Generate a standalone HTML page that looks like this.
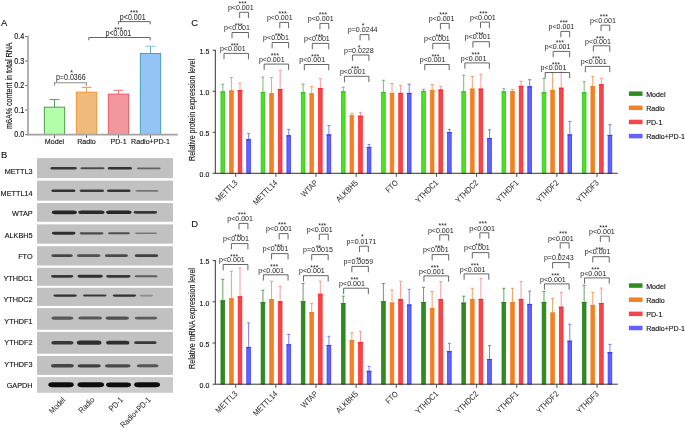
<!DOCTYPE html>
<html><head><meta charset="utf-8"><style>
html,body{margin:0;padding:0;background:#fff;}
body{width:685px;height:428px;overflow:hidden;}
svg{display:block;font-family:"Liberation Sans", sans-serif;will-change:transform;}
text{stroke:#111;stroke-width:0.12px;}
text.pv{stroke:none;fill:#222;}
</style></head><body>
<svg width="685" height="428" viewBox="0 0 685 428">
<rect width="685" height="428" fill="#fff"/>
<text transform="translate(1.1,25.7) scale(1,1.02)" font-size="9.4" text-anchor="start" fill="#111" >A</text>
<text transform="translate(11.6,85.7) rotate(-90) scale(1,1.16)" font-size="7.15" text-anchor="middle" fill="#111">m6A% content in total RNA</text>
<line x1="25.3" y1="134.6" x2="28" y2="134.6" stroke="#444" stroke-width="0.9"/>
<text transform="translate(24.3,137.35) scale(1,1.16)" font-size="7.2" text-anchor="end" fill="#111" >0.0</text>
<line x1="25.3" y1="110.07" x2="28" y2="110.07" stroke="#444" stroke-width="0.9"/>
<text transform="translate(24.3,112.82) scale(1,1.16)" font-size="7.2" text-anchor="end" fill="#111" >0.1</text>
<line x1="25.3" y1="85.54" x2="28" y2="85.54" stroke="#444" stroke-width="0.9"/>
<text transform="translate(24.3,88.29) scale(1,1.16)" font-size="7.2" text-anchor="end" fill="#111" >0.2</text>
<line x1="25.3" y1="61.01" x2="28" y2="61.01" stroke="#444" stroke-width="0.9"/>
<text transform="translate(24.3,63.76) scale(1,1.16)" font-size="7.2" text-anchor="end" fill="#111" >0.3</text>
<line x1="25.3" y1="36.48" x2="28" y2="36.48" stroke="#444" stroke-width="0.9"/>
<text transform="translate(24.3,39.23) scale(1,1.16)" font-size="7.2" text-anchor="end" fill="#111" >0.4</text>
<rect x="44.3" y="107.15" width="20.4" height="27.45" fill="#b2ffaa" stroke="#3f8f3f" stroke-width="0.9" />
<line x1="54.5" y1="107.15" x2="54.5" y2="99.6" stroke="#4a8f4a" stroke-width="0.9"/>
<line x1="49.5" y1="99.6" x2="59.5" y2="99.6" stroke="#5a9a5a" stroke-width="1.0"/>
<rect x="76.3" y="92.15" width="20.4" height="42.45" fill="#efbb7b" stroke="#f0902a" stroke-width="0.9" />
<line x1="86.5" y1="92.15" x2="86.5" y2="87.3" stroke="#f0902a" stroke-width="0.9"/>
<line x1="81.5" y1="87.3" x2="91.5" y2="87.3" stroke="#f09040" stroke-width="1.0"/>
<rect x="108.3" y="94.1" width="20.4" height="40.5" fill="#f3979f" stroke="#e8505c" stroke-width="0.9" />
<line x1="118.5" y1="94.1" x2="118.5" y2="90.3" stroke="#e86070" stroke-width="0.9"/>
<line x1="113.5" y1="90.3" x2="123.5" y2="90.3" stroke="#ea7080" stroke-width="1.0"/>
<rect x="140.3" y="53.5" width="20.4" height="81.1" fill="#94c3f5" stroke="#3c9ab2" stroke-width="0.9" />
<line x1="150.5" y1="53.5" x2="150.5" y2="46.2" stroke="#4aa0b0" stroke-width="0.9"/>
<line x1="145.5" y1="46.2" x2="155.5" y2="46.2" stroke="#80c4cc" stroke-width="1.0"/>
<line x1="28" y1="35.8" x2="28" y2="135.5" stroke="#a9a9a9" stroke-width="1.8"/>
<line x1="27.1" y1="134.6" x2="177.8" y2="134.6" stroke="#a4a4a4" stroke-width="1.6"/>
<line x1="54.5" y1="135.4" x2="54.5" y2="137.9" stroke="#444" stroke-width="0.9"/>
<line x1="86.5" y1="135.4" x2="86.5" y2="137.9" stroke="#444" stroke-width="0.9"/>
<line x1="118.5" y1="135.4" x2="118.5" y2="137.9" stroke="#444" stroke-width="0.9"/>
<line x1="150.5" y1="135.4" x2="150.5" y2="137.9" stroke="#444" stroke-width="0.9"/>
<text transform="translate(54.5,144.4) scale(1,1.04)" font-size="7.1" text-anchor="middle" fill="#111" >Model</text>
<text transform="translate(86.5,144.4) scale(1,1.04)" font-size="7.1" text-anchor="middle" fill="#111" >Radio</text>
<text transform="translate(118.5,144.4) scale(1,1.04)" font-size="7.1" text-anchor="middle" fill="#111" >PD-1</text>
<text transform="translate(150.5,144.4) scale(1,1.04)" font-size="7.1" text-anchor="middle" fill="#111" >Radio+PD-1</text>
<path d="M54.5,85.8 V82.8 H86.4 V85.8" fill="none" stroke="#8a8a8a" stroke-width="1.1"/>
<text transform="translate(70.8,80.1) scale(1,1.16)" font-size="7.1" text-anchor="middle" fill="#333" class="pv">p=0.0366</text>
<text transform="translate(71.5,74.9) scale(1,1.16)" font-size="7.0" text-anchor="middle" fill="#333" class="pv">*</text>
<path d="M88.8,40.3 V37.5 H150.2 V40.3" fill="none" stroke="#666" stroke-width="1.0"/>
<text transform="translate(118.4,35.6) scale(1,1.16)" font-size="7.1" text-anchor="middle" fill="#333" class="pv">p&lt;0.001</text>
<text transform="translate(118.4,32) scale(1,1.16)" font-size="7.0" text-anchor="middle" fill="#333" class="pv">***</text>
<path d="M118.4,24.4 V21.6 H150.2 V24.4" fill="none" stroke="#666" stroke-width="1.0"/>
<text transform="translate(132.7,19.8) scale(1,1.16)" font-size="7.1" text-anchor="middle" fill="#333" class="pv">p&lt;0.001</text>
<text transform="translate(134.1,15.3) scale(1,1.16)" font-size="7.0" text-anchor="middle" fill="#333" class="pv">***</text>
<text transform="translate(1.1,158) scale(1,1.02)" font-size="9.4" text-anchor="start" fill="#111" >B</text>
<defs><filter id="bl" x="-20%" y="-200%" width="140%" height="500%"><feGaussianBlur stdDeviation="0.6"/></filter></defs>
<rect x="37" y="158.1" width="136" height="20.1" fill="#c1c1c1" />
<text transform="translate(32.6,173.6) scale(1,1.08)" font-size="7.3" text-anchor="end" fill="#111" >METTL3</text>
<rect x="50.3" y="167.05" width="26.6" height="2.5" rx="2.2" ry="1.25" fill="#1c1c1c" fill-opacity="0.85" filter="url(#bl)"/>
<rect x="80.4" y="167.25" width="24.1" height="2.1" rx="1.88" ry="1.05" fill="#1c1c1c" fill-opacity="0.72" filter="url(#bl)"/>
<rect x="107.6" y="167" width="24.5" height="2.6" rx="2.28" ry="1.3" fill="#1c1c1c" fill-opacity="0.88" filter="url(#bl)"/>
<rect x="136.8" y="167.4" width="23.9" height="1.8" rx="1.64" ry="0.9" fill="#1c1c1c" fill-opacity="0.58" filter="url(#bl)"/>
<rect x="37" y="180.6" width="136" height="20.1" fill="#c1c1c1" />
<text transform="translate(32.6,195.8) scale(1,1.08)" font-size="7.3" text-anchor="end" fill="#111" >METTL14</text>
<rect x="51.3" y="189.55" width="24.2" height="2.5" rx="2.2" ry="1.25" fill="#1c1c1c" fill-opacity="0.88" filter="url(#bl)"/>
<rect x="79.6" y="189.6" width="24.5" height="2.4" rx="2.12" ry="1.2" fill="#1c1c1c" fill-opacity="0.80" filter="url(#bl)"/>
<rect x="107" y="189.6" width="23.6" height="2.4" rx="2.12" ry="1.2" fill="#1c1c1c" fill-opacity="0.85" filter="url(#bl)"/>
<rect x="135.5" y="189.9" width="23.1" height="1.8" rx="1.64" ry="0.9" fill="#1c1c1c" fill-opacity="0.45" filter="url(#bl)"/>
<rect x="37" y="203.1" width="136" height="18.7" fill="#c1c1c1" />
<text transform="translate(32.6,216.2) scale(1,1.08)" font-size="7.3" text-anchor="end" fill="#111" >WTAP</text>
<rect x="51.8" y="210.45" width="25.1" height="3.7" rx="3.16" ry="1.85" fill="#1c1c1c" fill-opacity="0.95" filter="url(#bl)"/>
<rect x="78.3" y="210.55" width="26.2" height="3.5" rx="3" ry="1.75" fill="#1c1c1c" fill-opacity="0.92" filter="url(#bl)"/>
<rect x="106.1" y="210.55" width="25.4" height="3.5" rx="3" ry="1.75" fill="#1c1c1c" fill-opacity="0.95" filter="url(#bl)"/>
<rect x="133.5" y="210.95" width="23.7" height="2.7" rx="2.36" ry="1.35" fill="#1c1c1c" fill-opacity="0.85" filter="url(#bl)"/>
<rect x="37" y="224.4" width="136" height="19.2" fill="#c1c1c1" />
<text transform="translate(32.6,238.3) scale(1,1.08)" font-size="7.3" text-anchor="end" fill="#111" >ALKBH5</text>
<rect x="51.8" y="231.85" width="23.7" height="2.9" rx="2.52" ry="1.45" fill="#1c1c1c" fill-opacity="0.90" filter="url(#bl)"/>
<rect x="79.6" y="232.2" width="23.9" height="2.2" rx="1.96" ry="1.1" fill="#1c1c1c" fill-opacity="0.72" filter="url(#bl)"/>
<rect x="108" y="232.3" width="22" height="2" rx="1.8" ry="1" fill="#1c1c1c" fill-opacity="0.68" filter="url(#bl)"/>
<rect x="135" y="232.5" width="22" height="1.6" rx="1.48" ry="0.8" fill="#1c1c1c" fill-opacity="0.45" filter="url(#bl)"/>
<rect x="37" y="246.2" width="136" height="19.3" fill="#c1c1c1" />
<text transform="translate(32.6,259.1) scale(1,1.08)" font-size="7.3" text-anchor="end" fill="#111" >FTO</text>
<rect x="51.3" y="254.3" width="21.5" height="2.8" rx="2.44" ry="1.4" fill="#1c1c1c" fill-opacity="0.75" filter="url(#bl)"/>
<rect x="76.9" y="254.35" width="23.5" height="2.7" rx="2.36" ry="1.35" fill="#1c1c1c" fill-opacity="0.68" filter="url(#bl)"/>
<rect x="104.9" y="254.3" width="23.1" height="2.8" rx="2.44" ry="1.4" fill="#1c1c1c" fill-opacity="0.72" filter="url(#bl)"/>
<rect x="134.7" y="254.35" width="23.5" height="2.7" rx="2.36" ry="1.35" fill="#1c1c1c" fill-opacity="0.78" filter="url(#bl)"/>
<rect x="37" y="267.8" width="136" height="18" fill="#c1c1c1" />
<text transform="translate(32.6,281.2) scale(1,1.08)" font-size="7.3" text-anchor="end" fill="#111" >YTHDC1</text>
<rect x="51" y="274.95" width="22.4" height="2.7" rx="2.36" ry="1.35" fill="#1c1c1c" fill-opacity="0.85" filter="url(#bl)"/>
<rect x="77.5" y="274.85" width="25.4" height="2.9" rx="2.52" ry="1.45" fill="#1c1c1c" fill-opacity="0.90" filter="url(#bl)"/>
<rect x="106.1" y="274.95" width="24.5" height="2.7" rx="2.36" ry="1.35" fill="#1c1c1c" fill-opacity="0.85" filter="url(#bl)"/>
<rect x="134.7" y="275.35" width="22.9" height="1.9" rx="1.72" ry="0.95" fill="#1c1c1c" fill-opacity="0.60" filter="url(#bl)"/>
<rect x="37" y="287.8" width="136" height="18.1" fill="#c1c1c1" />
<text transform="translate(32.6,302.1) scale(1,1.08)" font-size="7.3" text-anchor="end" fill="#111" >YTHDC2</text>
<rect x="53.4" y="294.5" width="23.5" height="2.2" rx="1.96" ry="1.1" fill="#1c1c1c" fill-opacity="0.88" filter="url(#bl)"/>
<rect x="83" y="294.6" width="23.5" height="2" rx="1.8" ry="1" fill="#1c1c1c" fill-opacity="0.82" filter="url(#bl)"/>
<rect x="112.7" y="294.5" width="23.5" height="2.2" rx="1.96" ry="1.1" fill="#1c1c1c" fill-opacity="0.88" filter="url(#bl)"/>
<rect x="139.6" y="294.8" width="13.5" height="1.6" rx="1.48" ry="0.8" fill="#1c1c1c" fill-opacity="0.30" filter="url(#bl)"/>
<rect x="37" y="308.1" width="136" height="21.7" fill="#c1c1c1" />
<text transform="translate(32.6,323.8) scale(1,1.08)" font-size="7.3" text-anchor="end" fill="#111" >YTHDF1</text>
<rect x="51.3" y="316.45" width="22.1" height="3.3" rx="2.84" ry="1.65" fill="#1c1c1c" fill-opacity="0.64" filter="url(#bl)"/>
<rect x="78.3" y="316.6" width="23.7" height="3" rx="2.6" ry="1.5" fill="#1c1c1c" fill-opacity="0.64" filter="url(#bl)"/>
<rect x="105.5" y="316.5" width="23.5" height="3.2" rx="2.76" ry="1.6" fill="#1c1c1c" fill-opacity="0.68" filter="url(#bl)"/>
<rect x="134.7" y="316.65" width="22.5" height="2.9" rx="2.52" ry="1.45" fill="#1c1c1c" fill-opacity="0.62" filter="url(#bl)"/>
<rect x="37" y="331.9" width="136" height="21.8" fill="#c1c1c1" />
<text transform="translate(32.6,345.2) scale(1,1.08)" font-size="7.3" text-anchor="end" fill="#111" >YTHDF2</text>
<rect x="51.3" y="340.95" width="22.1" height="3.5" rx="3" ry="1.75" fill="#1c1c1c" fill-opacity="0.85" filter="url(#bl)"/>
<rect x="76.9" y="340.55" width="24.5" height="4.3" rx="3.64" ry="2.15" fill="#1c1c1c" fill-opacity="0.90" filter="url(#bl)"/>
<rect x="106.1" y="340.8" width="23.3" height="3.8" rx="3.24" ry="1.9" fill="#1c1c1c" fill-opacity="0.90" filter="url(#bl)"/>
<rect x="134.1" y="341.35" width="22.5" height="2.7" rx="2.36" ry="1.35" fill="#1c1c1c" fill-opacity="0.85" filter="url(#bl)"/>
<rect x="37" y="355.9" width="136" height="19" fill="#c1c1c1" />
<text transform="translate(32.6,366.7) scale(1,1.08)" font-size="7.3" text-anchor="end" fill="#111" >YTHDF3</text>
<rect x="51" y="364.05" width="22.8" height="3.5" rx="3" ry="1.75" fill="#1c1c1c" fill-opacity="0.75" filter="url(#bl)"/>
<rect x="77.5" y="364.15" width="23.3" height="3.3" rx="2.84" ry="1.65" fill="#1c1c1c" fill-opacity="0.78" filter="url(#bl)"/>
<rect x="104.9" y="364.15" width="25.7" height="3.3" rx="2.84" ry="1.65" fill="#1c1c1c" fill-opacity="0.72" filter="url(#bl)"/>
<rect x="136.8" y="364.3" width="21.8" height="3" rx="2.6" ry="1.5" fill="#1c1c1c" fill-opacity="0.65" filter="url(#bl)"/>
<rect x="37" y="377.1" width="136" height="15.7" fill="#cacaca" />
<text transform="translate(32.6,388.3) scale(1,1.08)" font-size="7.3" text-anchor="end" fill="#111" >GAPDH</text>
<rect x="48.3" y="382.35" width="25.5" height="4.9" rx="4.12" ry="2.45" fill="#0a0a0a" fill-opacity="1.00" filter="url(#bl)"/>
<rect x="77.5" y="382.35" width="26.6" height="4.9" rx="4.12" ry="2.45" fill="#0a0a0a" fill-opacity="1.00" filter="url(#bl)"/>
<rect x="106.1" y="382.45" width="24.9" height="4.7" rx="3.96" ry="2.35" fill="#0a0a0a" fill-opacity="1.00" filter="url(#bl)"/>
<rect x="134.1" y="382.35" width="26" height="4.9" rx="4.12" ry="2.45" fill="#0a0a0a" fill-opacity="1.00" filter="url(#bl)"/>
<text transform="translate(66,400.5) rotate(-45) scale(1,1.16)" font-size="7.2" text-anchor="end" fill="#1a1a1a" class="pv">Model</text>
<text transform="translate(95,400.5) rotate(-45) scale(1,1.16)" font-size="7.2" text-anchor="end" fill="#1a1a1a" class="pv">Radio</text>
<text transform="translate(123.6,400.5) rotate(-45) scale(1,1.16)" font-size="7.2" text-anchor="end" fill="#1a1a1a" class="pv">PD-1</text>
<text transform="translate(151.3,400.5) rotate(-45) scale(1,1.16)" font-size="7.2" text-anchor="end" fill="#1a1a1a" class="pv">Radio+PD-1</text>
<text transform="translate(191.2,25.9) scale(1,1.02)" font-size="9.4" text-anchor="start" fill="#111" >C</text>
<text transform="translate(195.2,110) rotate(-90) scale(1,1.16)" font-size="7.1" text-anchor="middle" fill="#111">Relative protein expression level</text>
<line x1="222.8" y1="91.5" x2="222.8" y2="84.2" stroke="#6aa86a" stroke-width="0.85"/>
<line x1="221.3" y1="84.2" x2="224.3" y2="84.2" stroke="#6aa86a" stroke-width="0.9"/>
<rect x="220.95" y="91.85" width="3.7" height="81.45" fill="#48e41e" stroke="#36b528" stroke-width="0.7" />
<line x1="220.3" y1="91.9" x2="225.3" y2="91.9" stroke="#36b528" stroke-width="0.9"/>
<line x1="231.4" y1="90.6" x2="231.4" y2="77.5" stroke="#f09050" stroke-width="0.85"/>
<line x1="229.9" y1="77.5" x2="232.9" y2="77.5" stroke="#f09050" stroke-width="0.9"/>
<rect x="229.55" y="90.95" width="3.7" height="82.35" fill="#f08224" stroke="#f27c1e" stroke-width="0.7" />
<line x1="228.9" y1="91" x2="233.9" y2="91" stroke="#f27c1e" stroke-width="0.9"/>
<line x1="240" y1="90.2" x2="240" y2="83.1" stroke="#f88890" stroke-width="0.85"/>
<line x1="238.5" y1="83.1" x2="241.5" y2="83.1" stroke="#f88890" stroke-width="0.9"/>
<rect x="238.15" y="90.55" width="3.7" height="82.75" fill="#f5464e" stroke="#ff2020" stroke-width="0.7" />
<line x1="237.5" y1="90.6" x2="242.5" y2="90.6" stroke="#ff2020" stroke-width="0.9"/>
<line x1="248.6" y1="139.2" x2="248.6" y2="133.6" stroke="#6a6aff" stroke-width="0.85"/>
<line x1="247.1" y1="133.6" x2="250.1" y2="133.6" stroke="#6a6aff" stroke-width="0.9"/>
<rect x="246.75" y="139.55" width="3.7" height="33.75" fill="#6262ff" stroke="#3434ff" stroke-width="0.7" />
<line x1="246.1" y1="139.6" x2="251.1" y2="139.6" stroke="#3434ff" stroke-width="0.9"/>
<line x1="262.95" y1="92.1" x2="262.95" y2="77.1" stroke="#6aa86a" stroke-width="0.85"/>
<line x1="261.45" y1="77.1" x2="264.45" y2="77.1" stroke="#6aa86a" stroke-width="0.9"/>
<rect x="261.1" y="92.45" width="3.7" height="80.85" fill="#48e41e" stroke="#36b528" stroke-width="0.7" />
<line x1="260.45" y1="92.5" x2="265.45" y2="92.5" stroke="#36b528" stroke-width="0.9"/>
<line x1="271.55" y1="93.4" x2="271.55" y2="77.5" stroke="#f09050" stroke-width="0.85"/>
<line x1="270.05" y1="77.5" x2="273.05" y2="77.5" stroke="#f09050" stroke-width="0.9"/>
<rect x="269.7" y="93.75" width="3.7" height="79.55" fill="#f08224" stroke="#f27c1e" stroke-width="0.7" />
<line x1="269.05" y1="93.8" x2="274.05" y2="93.8" stroke="#f27c1e" stroke-width="0.9"/>
<line x1="280.15" y1="89.1" x2="280.15" y2="70.4" stroke="#f88890" stroke-width="0.85"/>
<line x1="278.65" y1="70.4" x2="281.65" y2="70.4" stroke="#f88890" stroke-width="0.9"/>
<rect x="278.3" y="89.45" width="3.7" height="83.85" fill="#f5464e" stroke="#ff2020" stroke-width="0.7" />
<line x1="277.65" y1="89.5" x2="282.65" y2="89.5" stroke="#ff2020" stroke-width="0.9"/>
<line x1="288.75" y1="135.4" x2="288.75" y2="129.4" stroke="#6a6aff" stroke-width="0.85"/>
<line x1="287.25" y1="129.4" x2="290.25" y2="129.4" stroke="#6a6aff" stroke-width="0.9"/>
<rect x="286.9" y="135.75" width="3.7" height="37.55" fill="#6262ff" stroke="#3434ff" stroke-width="0.7" />
<line x1="286.25" y1="135.8" x2="291.25" y2="135.8" stroke="#3434ff" stroke-width="0.9"/>
<line x1="303.1" y1="92.4" x2="303.1" y2="84.2" stroke="#6aa86a" stroke-width="0.85"/>
<line x1="301.6" y1="84.2" x2="304.6" y2="84.2" stroke="#6aa86a" stroke-width="0.9"/>
<rect x="301.25" y="92.75" width="3.7" height="80.55" fill="#48e41e" stroke="#36b528" stroke-width="0.7" />
<line x1="300.6" y1="92.8" x2="305.6" y2="92.8" stroke="#36b528" stroke-width="0.9"/>
<line x1="311.7" y1="93.4" x2="311.7" y2="86.4" stroke="#f09050" stroke-width="0.85"/>
<line x1="310.2" y1="86.4" x2="313.2" y2="86.4" stroke="#f09050" stroke-width="0.9"/>
<rect x="309.85" y="93.75" width="3.7" height="79.55" fill="#f08224" stroke="#f27c1e" stroke-width="0.7" />
<line x1="309.2" y1="93.8" x2="314.2" y2="93.8" stroke="#f27c1e" stroke-width="0.9"/>
<line x1="320.3" y1="88.3" x2="320.3" y2="78.6" stroke="#f88890" stroke-width="0.85"/>
<line x1="318.8" y1="78.6" x2="321.8" y2="78.6" stroke="#f88890" stroke-width="0.9"/>
<rect x="318.45" y="88.65" width="3.7" height="84.65" fill="#f5464e" stroke="#ff2020" stroke-width="0.7" />
<line x1="317.8" y1="88.7" x2="322.8" y2="88.7" stroke="#ff2020" stroke-width="0.9"/>
<line x1="328.9" y1="134.5" x2="328.9" y2="125.5" stroke="#6a6aff" stroke-width="0.85"/>
<line x1="327.4" y1="125.5" x2="330.4" y2="125.5" stroke="#6a6aff" stroke-width="0.9"/>
<rect x="327.05" y="134.85" width="3.7" height="38.45" fill="#6262ff" stroke="#3434ff" stroke-width="0.7" />
<line x1="326.4" y1="134.9" x2="331.4" y2="134.9" stroke="#3434ff" stroke-width="0.9"/>
<line x1="343.25" y1="91.5" x2="343.25" y2="87.2" stroke="#6aa86a" stroke-width="0.85"/>
<line x1="341.75" y1="87.2" x2="344.75" y2="87.2" stroke="#6aa86a" stroke-width="0.9"/>
<rect x="341.4" y="91.85" width="3.7" height="81.45" fill="#48e41e" stroke="#36b528" stroke-width="0.7" />
<line x1="340.75" y1="91.9" x2="345.75" y2="91.9" stroke="#36b528" stroke-width="0.9"/>
<line x1="351.85" y1="115.4" x2="351.85" y2="113.4" stroke="#f09050" stroke-width="0.85"/>
<line x1="350.35" y1="113.4" x2="353.35" y2="113.4" stroke="#f09050" stroke-width="0.9"/>
<rect x="350" y="115.75" width="3.7" height="57.55" fill="#f08224" stroke="#f27c1e" stroke-width="0.7" />
<line x1="349.35" y1="115.8" x2="354.35" y2="115.8" stroke="#f27c1e" stroke-width="0.9"/>
<line x1="360.45" y1="115.8" x2="360.45" y2="112.4" stroke="#f88890" stroke-width="0.85"/>
<line x1="358.95" y1="112.4" x2="361.95" y2="112.4" stroke="#f88890" stroke-width="0.9"/>
<rect x="358.6" y="116.15" width="3.7" height="57.15" fill="#f5464e" stroke="#ff2020" stroke-width="0.7" />
<line x1="357.95" y1="116.2" x2="362.95" y2="116.2" stroke="#ff2020" stroke-width="0.9"/>
<line x1="369.05" y1="147" x2="369.05" y2="144.4" stroke="#6a6aff" stroke-width="0.85"/>
<line x1="367.55" y1="144.4" x2="370.55" y2="144.4" stroke="#6a6aff" stroke-width="0.9"/>
<rect x="367.2" y="147.35" width="3.7" height="25.95" fill="#6262ff" stroke="#3434ff" stroke-width="0.7" />
<line x1="366.55" y1="147.4" x2="371.55" y2="147.4" stroke="#3434ff" stroke-width="0.9"/>
<line x1="383.4" y1="92.1" x2="383.4" y2="80.3" stroke="#6aa86a" stroke-width="0.85"/>
<line x1="381.9" y1="80.3" x2="384.9" y2="80.3" stroke="#6aa86a" stroke-width="0.9"/>
<rect x="381.55" y="92.45" width="3.7" height="80.85" fill="#48e41e" stroke="#36b528" stroke-width="0.7" />
<line x1="380.9" y1="92.5" x2="385.9" y2="92.5" stroke="#36b528" stroke-width="0.9"/>
<line x1="392" y1="93" x2="392" y2="83.5" stroke="#f09050" stroke-width="0.85"/>
<line x1="390.5" y1="83.5" x2="393.5" y2="83.5" stroke="#f09050" stroke-width="0.9"/>
<rect x="390.15" y="93.35" width="3.7" height="79.95" fill="#f08224" stroke="#f27c1e" stroke-width="0.7" />
<line x1="389.5" y1="93.4" x2="394.5" y2="93.4" stroke="#f27c1e" stroke-width="0.9"/>
<line x1="400.6" y1="93" x2="400.6" y2="85.3" stroke="#f88890" stroke-width="0.85"/>
<line x1="399.1" y1="85.3" x2="402.1" y2="85.3" stroke="#f88890" stroke-width="0.9"/>
<rect x="398.75" y="93.35" width="3.7" height="79.95" fill="#f5464e" stroke="#ff2020" stroke-width="0.7" />
<line x1="398.1" y1="93.4" x2="403.1" y2="93.4" stroke="#ff2020" stroke-width="0.9"/>
<line x1="409.2" y1="93" x2="409.2" y2="84.2" stroke="#6a6aff" stroke-width="0.85"/>
<line x1="407.7" y1="84.2" x2="410.7" y2="84.2" stroke="#6a6aff" stroke-width="0.9"/>
<rect x="407.35" y="93.35" width="3.7" height="79.95" fill="#6262ff" stroke="#3434ff" stroke-width="0.7" />
<line x1="406.7" y1="93.4" x2="411.7" y2="93.4" stroke="#3434ff" stroke-width="0.9"/>
<line x1="423.55" y1="91.1" x2="423.55" y2="89.3" stroke="#6aa86a" stroke-width="0.85"/>
<line x1="422.05" y1="89.3" x2="425.05" y2="89.3" stroke="#6aa86a" stroke-width="0.9"/>
<rect x="421.7" y="91.45" width="3.7" height="81.85" fill="#48e41e" stroke="#36b528" stroke-width="0.7" />
<line x1="421.05" y1="91.5" x2="426.05" y2="91.5" stroke="#36b528" stroke-width="0.9"/>
<line x1="432.15" y1="90" x2="432.15" y2="84.6" stroke="#f09050" stroke-width="0.85"/>
<line x1="430.65" y1="84.6" x2="433.65" y2="84.6" stroke="#f09050" stroke-width="0.9"/>
<rect x="430.3" y="90.35" width="3.7" height="82.95" fill="#f08224" stroke="#f27c1e" stroke-width="0.7" />
<line x1="429.65" y1="90.4" x2="434.65" y2="90.4" stroke="#f27c1e" stroke-width="0.9"/>
<line x1="440.75" y1="89.6" x2="440.75" y2="86.4" stroke="#f88890" stroke-width="0.85"/>
<line x1="439.25" y1="86.4" x2="442.25" y2="86.4" stroke="#f88890" stroke-width="0.9"/>
<rect x="438.9" y="89.95" width="3.7" height="83.35" fill="#f5464e" stroke="#ff2020" stroke-width="0.7" />
<line x1="438.25" y1="90" x2="443.25" y2="90" stroke="#ff2020" stroke-width="0.9"/>
<line x1="449.35" y1="132.2" x2="449.35" y2="129.4" stroke="#6a6aff" stroke-width="0.85"/>
<line x1="447.85" y1="129.4" x2="450.85" y2="129.4" stroke="#6a6aff" stroke-width="0.9"/>
<rect x="447.5" y="132.55" width="3.7" height="40.75" fill="#6262ff" stroke="#3434ff" stroke-width="0.7" />
<line x1="446.85" y1="132.6" x2="451.85" y2="132.6" stroke="#3434ff" stroke-width="0.9"/>
<line x1="463.7" y1="91.5" x2="463.7" y2="75.2" stroke="#6aa86a" stroke-width="0.85"/>
<line x1="462.2" y1="75.2" x2="465.2" y2="75.2" stroke="#6aa86a" stroke-width="0.9"/>
<rect x="461.85" y="91.85" width="3.7" height="81.45" fill="#48e41e" stroke="#36b528" stroke-width="0.7" />
<line x1="461.2" y1="91.9" x2="466.2" y2="91.9" stroke="#36b528" stroke-width="0.9"/>
<line x1="472.3" y1="88.7" x2="472.3" y2="76.5" stroke="#f09050" stroke-width="0.85"/>
<line x1="470.8" y1="76.5" x2="473.8" y2="76.5" stroke="#f09050" stroke-width="0.9"/>
<rect x="470.45" y="89.05" width="3.7" height="84.25" fill="#f08224" stroke="#f27c1e" stroke-width="0.7" />
<line x1="469.8" y1="89.1" x2="474.8" y2="89.1" stroke="#f27c1e" stroke-width="0.9"/>
<line x1="480.9" y1="88.7" x2="480.9" y2="74.3" stroke="#f88890" stroke-width="0.85"/>
<line x1="479.4" y1="74.3" x2="482.4" y2="74.3" stroke="#f88890" stroke-width="0.9"/>
<rect x="479.05" y="89.05" width="3.7" height="84.25" fill="#f5464e" stroke="#ff2020" stroke-width="0.7" />
<line x1="478.4" y1="89.1" x2="483.4" y2="89.1" stroke="#ff2020" stroke-width="0.9"/>
<line x1="489.5" y1="138.2" x2="489.5" y2="129.8" stroke="#6a6aff" stroke-width="0.85"/>
<line x1="488" y1="129.8" x2="491" y2="129.8" stroke="#6a6aff" stroke-width="0.9"/>
<rect x="487.65" y="138.55" width="3.7" height="34.75" fill="#6262ff" stroke="#3434ff" stroke-width="0.7" />
<line x1="487" y1="138.6" x2="492" y2="138.6" stroke="#3434ff" stroke-width="0.9"/>
<line x1="503.85" y1="91.5" x2="503.85" y2="88.7" stroke="#6aa86a" stroke-width="0.85"/>
<line x1="502.35" y1="88.7" x2="505.35" y2="88.7" stroke="#6aa86a" stroke-width="0.9"/>
<rect x="502" y="91.85" width="3.7" height="81.45" fill="#48e41e" stroke="#36b528" stroke-width="0.7" />
<line x1="501.35" y1="91.9" x2="506.35" y2="91.9" stroke="#36b528" stroke-width="0.9"/>
<line x1="512.45" y1="91.1" x2="512.45" y2="89.4" stroke="#f09050" stroke-width="0.85"/>
<line x1="510.95" y1="89.4" x2="513.95" y2="89.4" stroke="#f09050" stroke-width="0.9"/>
<rect x="510.6" y="91.45" width="3.7" height="81.85" fill="#f08224" stroke="#f27c1e" stroke-width="0.7" />
<line x1="509.95" y1="91.5" x2="514.95" y2="91.5" stroke="#f27c1e" stroke-width="0.9"/>
<line x1="521.05" y1="85.9" x2="521.05" y2="81.2" stroke="#f88890" stroke-width="0.85"/>
<line x1="519.55" y1="81.2" x2="522.55" y2="81.2" stroke="#f88890" stroke-width="0.9"/>
<rect x="519.2" y="86.25" width="3.7" height="87.05" fill="#f5464e" stroke="#ff2020" stroke-width="0.7" />
<line x1="518.55" y1="86.3" x2="523.55" y2="86.3" stroke="#ff2020" stroke-width="0.9"/>
<line x1="529.65" y1="86.4" x2="529.65" y2="79.7" stroke="#6a6aff" stroke-width="0.85"/>
<line x1="528.15" y1="79.7" x2="531.15" y2="79.7" stroke="#6a6aff" stroke-width="0.9"/>
<rect x="527.8" y="86.75" width="3.7" height="86.55" fill="#6262ff" stroke="#3434ff" stroke-width="0.7" />
<line x1="527.15" y1="86.8" x2="532.15" y2="86.8" stroke="#3434ff" stroke-width="0.9"/>
<line x1="544" y1="92.4" x2="544" y2="78.4" stroke="#6aa86a" stroke-width="0.85"/>
<line x1="542.5" y1="78.4" x2="545.5" y2="78.4" stroke="#6aa86a" stroke-width="0.9"/>
<rect x="542.15" y="92.75" width="3.7" height="80.55" fill="#48e41e" stroke="#36b528" stroke-width="0.7" />
<line x1="541.5" y1="92.8" x2="546.5" y2="92.8" stroke="#36b528" stroke-width="0.9"/>
<line x1="552.6" y1="90.2" x2="552.6" y2="72.8" stroke="#f09050" stroke-width="0.85"/>
<line x1="551.1" y1="72.8" x2="554.1" y2="72.8" stroke="#f09050" stroke-width="0.9"/>
<rect x="550.75" y="90.55" width="3.7" height="82.75" fill="#f08224" stroke="#f27c1e" stroke-width="0.7" />
<line x1="550.1" y1="90.6" x2="555.1" y2="90.6" stroke="#f27c1e" stroke-width="0.9"/>
<line x1="561.2" y1="87.8" x2="561.2" y2="72.2" stroke="#f88890" stroke-width="0.85"/>
<line x1="559.7" y1="72.2" x2="562.7" y2="72.2" stroke="#f88890" stroke-width="0.9"/>
<rect x="559.35" y="88.15" width="3.7" height="85.15" fill="#f5464e" stroke="#ff2020" stroke-width="0.7" />
<line x1="558.7" y1="88.2" x2="563.7" y2="88.2" stroke="#ff2020" stroke-width="0.9"/>
<line x1="569.8" y1="134.5" x2="569.8" y2="121.4" stroke="#6a6aff" stroke-width="0.85"/>
<line x1="568.3" y1="121.4" x2="571.3" y2="121.4" stroke="#6a6aff" stroke-width="0.9"/>
<rect x="567.95" y="134.85" width="3.7" height="38.45" fill="#6262ff" stroke="#3434ff" stroke-width="0.7" />
<line x1="567.3" y1="134.9" x2="572.3" y2="134.9" stroke="#3434ff" stroke-width="0.9"/>
<line x1="584.15" y1="92.4" x2="584.15" y2="81.8" stroke="#6aa86a" stroke-width="0.85"/>
<line x1="582.65" y1="81.8" x2="585.65" y2="81.8" stroke="#6aa86a" stroke-width="0.9"/>
<rect x="582.3" y="92.75" width="3.7" height="80.55" fill="#48e41e" stroke="#36b528" stroke-width="0.7" />
<line x1="581.65" y1="92.8" x2="586.65" y2="92.8" stroke="#36b528" stroke-width="0.9"/>
<line x1="592.75" y1="86.3" x2="592.75" y2="76.5" stroke="#f09050" stroke-width="0.85"/>
<line x1="591.25" y1="76.5" x2="594.25" y2="76.5" stroke="#f09050" stroke-width="0.9"/>
<rect x="590.9" y="86.65" width="3.7" height="86.65" fill="#f08224" stroke="#f27c1e" stroke-width="0.7" />
<line x1="590.25" y1="86.7" x2="595.25" y2="86.7" stroke="#f27c1e" stroke-width="0.9"/>
<line x1="601.35" y1="84.4" x2="601.35" y2="78.4" stroke="#f88890" stroke-width="0.85"/>
<line x1="599.85" y1="78.4" x2="602.85" y2="78.4" stroke="#f88890" stroke-width="0.9"/>
<rect x="599.5" y="84.75" width="3.7" height="88.55" fill="#f5464e" stroke="#ff2020" stroke-width="0.7" />
<line x1="598.85" y1="84.8" x2="603.85" y2="84.8" stroke="#ff2020" stroke-width="0.9"/>
<line x1="609.95" y1="135" x2="609.95" y2="124.6" stroke="#6a6aff" stroke-width="0.85"/>
<line x1="608.45" y1="124.6" x2="611.45" y2="124.6" stroke="#6a6aff" stroke-width="0.9"/>
<rect x="608.1" y="135.35" width="3.7" height="37.95" fill="#6262ff" stroke="#3434ff" stroke-width="0.7" />
<line x1="607.45" y1="135.4" x2="612.45" y2="135.4" stroke="#3434ff" stroke-width="0.9"/>
<line x1="215.3" y1="49.8" x2="215.3" y2="173.8" stroke="#333" stroke-width="1.0"/>
<line x1="215.3" y1="173.3" x2="617.8" y2="173.3" stroke="#333" stroke-width="1.0"/>
<line x1="212.6" y1="173.3" x2="215.3" y2="173.3" stroke="#333" stroke-width="0.9"/>
<text transform="translate(209.3,176.5) scale(1,1.16)" font-size="7.0" text-anchor="end" fill="#111" >0.0</text>
<line x1="212.6" y1="132.3" x2="215.3" y2="132.3" stroke="#333" stroke-width="0.9"/>
<text transform="translate(209.3,135.5) scale(1,1.16)" font-size="7.0" text-anchor="end" fill="#111" >0.5</text>
<line x1="212.6" y1="91.3" x2="215.3" y2="91.3" stroke="#333" stroke-width="0.9"/>
<text transform="translate(209.3,94.5) scale(1,1.16)" font-size="7.0" text-anchor="end" fill="#111" >1.0</text>
<line x1="212.6" y1="50.3" x2="215.3" y2="50.3" stroke="#333" stroke-width="0.9"/>
<text transform="translate(209.3,53.5) scale(1,1.16)" font-size="7.0" text-anchor="end" fill="#111" >1.5</text>
<line x1="235.7" y1="173.3" x2="235.7" y2="176.9" stroke="#333" stroke-width="0.9"/>
<text transform="translate(238,183.4) rotate(-45) scale(1,1.16)" font-size="7.1" text-anchor="end" fill="#1a1a1a" class="pv">METTL3</text>
<line x1="275.85" y1="173.3" x2="275.85" y2="176.9" stroke="#333" stroke-width="0.9"/>
<text transform="translate(278.15,183.4) rotate(-45) scale(1,1.16)" font-size="7.1" text-anchor="end" fill="#1a1a1a" class="pv">METTL14</text>
<line x1="316" y1="173.3" x2="316" y2="176.9" stroke="#333" stroke-width="0.9"/>
<text transform="translate(318.3,183.4) rotate(-45) scale(1,1.16)" font-size="7.1" text-anchor="end" fill="#1a1a1a" class="pv">WTAP</text>
<line x1="356.15" y1="173.3" x2="356.15" y2="176.9" stroke="#333" stroke-width="0.9"/>
<text transform="translate(358.45,183.4) rotate(-45) scale(1,1.16)" font-size="7.1" text-anchor="end" fill="#1a1a1a" class="pv">ALKBH5</text>
<line x1="396.3" y1="173.3" x2="396.3" y2="176.9" stroke="#333" stroke-width="0.9"/>
<text transform="translate(398.6,183.4) rotate(-45) scale(1,1.16)" font-size="7.1" text-anchor="end" fill="#1a1a1a" class="pv">FTO</text>
<line x1="436.45" y1="173.3" x2="436.45" y2="176.9" stroke="#333" stroke-width="0.9"/>
<text transform="translate(438.75,183.4) rotate(-45) scale(1,1.16)" font-size="7.1" text-anchor="end" fill="#1a1a1a" class="pv">YTHDC1</text>
<line x1="476.6" y1="173.3" x2="476.6" y2="176.9" stroke="#333" stroke-width="0.9"/>
<text transform="translate(478.9,183.4) rotate(-45) scale(1,1.16)" font-size="7.1" text-anchor="end" fill="#1a1a1a" class="pv">YTHDC2</text>
<line x1="516.75" y1="173.3" x2="516.75" y2="176.9" stroke="#333" stroke-width="0.9"/>
<text transform="translate(519.05,183.4) rotate(-45) scale(1,1.16)" font-size="7.1" text-anchor="end" fill="#1a1a1a" class="pv">YTHDF1</text>
<line x1="556.9" y1="173.3" x2="556.9" y2="176.9" stroke="#333" stroke-width="0.9"/>
<text transform="translate(559.2,183.4) rotate(-45) scale(1,1.16)" font-size="7.1" text-anchor="end" fill="#1a1a1a" class="pv">YTHDF2</text>
<line x1="597.05" y1="173.3" x2="597.05" y2="176.9" stroke="#333" stroke-width="0.9"/>
<text transform="translate(599.35,183.4) rotate(-45) scale(1,1.16)" font-size="7.1" text-anchor="end" fill="#1a1a1a" class="pv">YTHDF3</text>
<path d="M239.65,18.1 V12.3 H248.45 V18.1" fill="none" stroke="#555" stroke-width="0.9"/>
<text transform="translate(227.9,10) scale(1,1.12)" font-size="7.1" text-anchor="start" fill="#333" class="pv">p&lt;0.001</text>
<text transform="translate(242.55,5.8) scale(1,1.12)" font-size="7.0" text-anchor="middle" fill="#333" class="pv">***</text>
<path d="M232,38.3 V32.5 H248.45 V38.3" fill="none" stroke="#555" stroke-width="0.9"/>
<text transform="translate(224.1,30.2) scale(1,1.12)" font-size="7.1" text-anchor="start" fill="#333" class="pv">p&lt;0.001</text>
<text transform="translate(238.72,27.8) scale(1,1.12)" font-size="7.0" text-anchor="middle" fill="#333" class="pv">***</text>
<path d="M224,59.2 V53.4 H248.45 V59.2" fill="none" stroke="#555" stroke-width="0.9"/>
<text transform="translate(219.9,51.1) scale(1,1.12)" font-size="7.1" text-anchor="start" fill="#333" class="pv">p&lt;0.001</text>
<text transform="translate(234.72,47.6) scale(1,1.12)" font-size="7.0" text-anchor="middle" fill="#333" class="pv">***</text>
<path d="M279.8,28.2 V22.4 H288.6 V28.2" fill="none" stroke="#555" stroke-width="0.9"/>
<text transform="translate(266.9,20.1) scale(1,1.12)" font-size="7.1" text-anchor="start" fill="#333" class="pv">p&lt;0.001</text>
<text transform="translate(282.7,15.9) scale(1,1.12)" font-size="7.0" text-anchor="middle" fill="#333" class="pv">***</text>
<path d="M272.15,48.3 V42.5 H288.6 V48.3" fill="none" stroke="#555" stroke-width="0.9"/>
<text transform="translate(263.1,40.2) scale(1,1.12)" font-size="7.1" text-anchor="start" fill="#333" class="pv">p&lt;0.001</text>
<text transform="translate(278.88,37.8) scale(1,1.12)" font-size="7.0" text-anchor="middle" fill="#333" class="pv">***</text>
<path d="M264.15,69.9 V64.1 H288.6 V69.9" fill="none" stroke="#555" stroke-width="0.9"/>
<text transform="translate(258.9,61.8) scale(1,1.12)" font-size="7.1" text-anchor="start" fill="#333" class="pv">p&lt;0.001</text>
<text transform="translate(274.88,58.3) scale(1,1.12)" font-size="7.0" text-anchor="middle" fill="#333" class="pv">***</text>
<path d="M319.95,29.2 V23.4 H328.75 V29.2" fill="none" stroke="#555" stroke-width="0.9"/>
<text transform="translate(307.8,21.1) scale(1,1.12)" font-size="7.1" text-anchor="start" fill="#333" class="pv">p&lt;0.001</text>
<text transform="translate(322.85,16.9) scale(1,1.12)" font-size="7.0" text-anchor="middle" fill="#333" class="pv">***</text>
<path d="M312.3,49.2 V43.4 H328.75 V49.2" fill="none" stroke="#555" stroke-width="0.9"/>
<text transform="translate(304,41.1) scale(1,1.12)" font-size="7.1" text-anchor="start" fill="#333" class="pv">p&lt;0.001</text>
<text transform="translate(319.02,38.7) scale(1,1.12)" font-size="7.0" text-anchor="middle" fill="#333" class="pv">***</text>
<path d="M304.3,70.3 V64.5 H328.75 V70.3" fill="none" stroke="#555" stroke-width="0.9"/>
<text transform="translate(299.3,62.2) scale(1,1.12)" font-size="7.1" text-anchor="start" fill="#333" class="pv">p&lt;0.001</text>
<text transform="translate(315.02,58.7) scale(1,1.12)" font-size="7.0" text-anchor="middle" fill="#333" class="pv">***</text>
<path d="M360.1,40.4 V34.6 H368.9 V40.4" fill="none" stroke="#555" stroke-width="0.9"/>
<text transform="translate(347.8,32.3) scale(1,1.12)" font-size="7.1" text-anchor="start" fill="#333" class="pv">p=0.0244</text>
<text transform="translate(363,27.5) scale(1,1.12)" font-size="7.0" text-anchor="middle" fill="#333" class="pv">*</text>
<path d="M352.45,60.8 V55 H368.9 V60.8" fill="none" stroke="#555" stroke-width="0.9"/>
<text transform="translate(344,52.7) scale(1,1.12)" font-size="7.1" text-anchor="start" fill="#333" class="pv">p=0.0228</text>
<text transform="translate(359.17,50.3) scale(1,1.12)" font-size="7.0" text-anchor="middle" fill="#333" class="pv">*</text>
<path d="M344.45,82.1 V76.3 H368.9 V82.1" fill="none" stroke="#555" stroke-width="0.9"/>
<text transform="translate(339.9,74) scale(1,1.12)" font-size="7.1" text-anchor="start" fill="#333" class="pv">p&lt;0.001</text>
<text transform="translate(355.17,70.5) scale(1,1.12)" font-size="7.0" text-anchor="middle" fill="#333" class="pv">***</text>
<path d="M440.4,29.2 V23.4 H449.2 V29.2" fill="none" stroke="#555" stroke-width="0.9"/>
<text transform="translate(428.7,21.1) scale(1,1.12)" font-size="7.1" text-anchor="start" fill="#333" class="pv">p&lt;0.001</text>
<text transform="translate(443.3,16.9) scale(1,1.12)" font-size="7.0" text-anchor="middle" fill="#333" class="pv">***</text>
<path d="M432.75,49.2 V43.4 H449.2 V49.2" fill="none" stroke="#555" stroke-width="0.9"/>
<text transform="translate(424,41.1) scale(1,1.12)" font-size="7.1" text-anchor="start" fill="#333" class="pv">p&lt;0.001</text>
<text transform="translate(439.48,38.7) scale(1,1.12)" font-size="7.0" text-anchor="middle" fill="#333" class="pv">***</text>
<path d="M424.75,70.3 V64.5 H449.2 V70.3" fill="none" stroke="#555" stroke-width="0.9"/>
<text transform="translate(419.7,62.2) scale(1,1.12)" font-size="7.1" text-anchor="start" fill="#333" class="pv">p&lt;0.001</text>
<text transform="translate(435.48,58.7) scale(1,1.12)" font-size="7.0" text-anchor="middle" fill="#333" class="pv">***</text>
<path d="M480.55,27.9 V22.1 H489.35 V27.9" fill="none" stroke="#555" stroke-width="0.9"/>
<text transform="translate(470,19.8) scale(1,1.12)" font-size="7.1" text-anchor="start" fill="#333" class="pv">p&lt;0.001</text>
<text transform="translate(483.45,15.6) scale(1,1.12)" font-size="7.0" text-anchor="middle" fill="#333" class="pv">***</text>
<path d="M472.9,47.5 V41.7 H489.35 V47.5" fill="none" stroke="#555" stroke-width="0.9"/>
<text transform="translate(464.8,39.4) scale(1,1.12)" font-size="7.1" text-anchor="start" fill="#333" class="pv">p&lt;0.001</text>
<text transform="translate(479.62,37) scale(1,1.12)" font-size="7.0" text-anchor="middle" fill="#333" class="pv">***</text>
<path d="M464.9,68.7 V62.9 H489.35 V68.7" fill="none" stroke="#555" stroke-width="0.9"/>
<text transform="translate(460.7,60.6) scale(1,1.12)" font-size="7.1" text-anchor="start" fill="#333" class="pv">p&lt;0.001</text>
<text transform="translate(475.62,57.1) scale(1,1.12)" font-size="7.0" text-anchor="middle" fill="#333" class="pv">***</text>
<path d="M560.85,37.2 V31.4 H569.65 V37.2" fill="none" stroke="#555" stroke-width="0.9"/>
<text transform="translate(548.5,29.1) scale(1,1.12)" font-size="7.1" text-anchor="start" fill="#333" class="pv">p&lt;0.001</text>
<text transform="translate(563.75,24.9) scale(1,1.12)" font-size="7.0" text-anchor="middle" fill="#333" class="pv">***</text>
<path d="M553.2,57.2 V51.4 H569.65 V57.2" fill="none" stroke="#555" stroke-width="0.9"/>
<text transform="translate(544.7,49.1) scale(1,1.12)" font-size="7.1" text-anchor="start" fill="#333" class="pv">p&lt;0.001</text>
<text transform="translate(559.92,45.2) scale(1,1.12)" font-size="7.0" text-anchor="middle" fill="#333" class="pv">***</text>
<path d="M545.2,78.3 V72.5 H569.65 V78.3" fill="none" stroke="#555" stroke-width="0.9"/>
<text transform="translate(540.6,70.2) scale(1,1.12)" font-size="7.1" text-anchor="start" fill="#333" class="pv">p&lt;0.001</text>
<text transform="translate(555.92,66.7) scale(1,1.12)" font-size="7.0" text-anchor="middle" fill="#333" class="pv">***</text>
<path d="M601,31 V25.2 H609.8 V31" fill="none" stroke="#555" stroke-width="0.9"/>
<text transform="translate(590.1,22.9) scale(1,1.12)" font-size="7.1" text-anchor="start" fill="#333" class="pv">p&lt;0.001</text>
<text transform="translate(603.9,18.7) scale(1,1.12)" font-size="7.0" text-anchor="middle" fill="#333" class="pv">***</text>
<path d="M593.35,51.6 V45.8 H609.8 V51.6" fill="none" stroke="#555" stroke-width="0.9"/>
<text transform="translate(585.1,43.5) scale(1,1.12)" font-size="7.1" text-anchor="start" fill="#333" class="pv">p&lt;0.001</text>
<text transform="translate(600.07,41.1) scale(1,1.12)" font-size="7.0" text-anchor="middle" fill="#333" class="pv">***</text>
<path d="M585.35,72.2 V66.4 H609.8 V72.2" fill="none" stroke="#555" stroke-width="0.9"/>
<text transform="translate(580.8,64.1) scale(1,1.12)" font-size="7.1" text-anchor="start" fill="#333" class="pv">p&lt;0.001</text>
<text transform="translate(596.07,60.6) scale(1,1.12)" font-size="7.0" text-anchor="middle" fill="#333" class="pv">***</text>
<rect x="628.9" y="91.4" width="13.6" height="4.5" fill="#2f8c1f" />
<text transform="translate(646.2,97) scale(1,1.06)" font-size="7.1" text-anchor="start" fill="#111" >Model</text>
<rect x="628.9" y="105.55" width="13.6" height="4.5" fill="#f08224" />
<text transform="translate(646.2,111.15) scale(1,1.06)" font-size="7.1" text-anchor="start" fill="#111" >Radio</text>
<rect x="628.9" y="119.7" width="13.6" height="4.5" fill="#f5464e" />
<text transform="translate(646.2,125.3) scale(1,1.06)" font-size="7.1" text-anchor="start" fill="#111" >PD-1</text>
<rect x="628.9" y="133.85" width="13.6" height="4.5" fill="#6262ff" />
<text transform="translate(646.2,139.45) scale(1,1.06)" font-size="7.1" text-anchor="start" fill="#111" >Radio+PD-1</text>
<text transform="translate(191.2,227) scale(1,1.02)" font-size="9.4" text-anchor="start" fill="#111" >D</text>
<text transform="translate(195.2,318.5) rotate(-90) scale(1,1.16)" font-size="7.1" text-anchor="middle" fill="#111">Relative mRNA expression level</text>
<line x1="222.8" y1="300.5" x2="222.8" y2="279.3" stroke="#4a904a" stroke-width="0.85"/>
<line x1="221.3" y1="279.3" x2="224.3" y2="279.3" stroke="#4a904a" stroke-width="0.9"/>
<rect x="220.95" y="300.85" width="3.7" height="83.35" fill="#2f8c1f" stroke="#267a18" stroke-width="0.7" />
<line x1="220.3" y1="300.9" x2="225.3" y2="300.9" stroke="#267a18" stroke-width="0.9"/>
<line x1="231.4" y1="298.4" x2="231.4" y2="271.3" stroke="#f09050" stroke-width="0.85"/>
<line x1="229.9" y1="271.3" x2="232.9" y2="271.3" stroke="#f09050" stroke-width="0.9"/>
<rect x="229.55" y="298.75" width="3.7" height="85.45" fill="#f08224" stroke="#f27c1e" stroke-width="0.7" />
<line x1="228.9" y1="298.8" x2="233.9" y2="298.8" stroke="#f27c1e" stroke-width="0.9"/>
<line x1="240" y1="296.5" x2="240" y2="267.9" stroke="#f88890" stroke-width="0.85"/>
<line x1="238.5" y1="267.9" x2="241.5" y2="267.9" stroke="#f88890" stroke-width="0.9"/>
<rect x="238.15" y="296.85" width="3.7" height="87.35" fill="#f5464e" stroke="#ff2020" stroke-width="0.7" />
<line x1="237.5" y1="296.9" x2="242.5" y2="296.9" stroke="#ff2020" stroke-width="0.9"/>
<line x1="248.6" y1="347.1" x2="248.6" y2="322.9" stroke="#6a6aff" stroke-width="0.85"/>
<line x1="247.1" y1="322.9" x2="250.1" y2="322.9" stroke="#6a6aff" stroke-width="0.9"/>
<rect x="246.75" y="347.45" width="3.7" height="36.75" fill="#6262ff" stroke="#3434ff" stroke-width="0.7" />
<line x1="246.1" y1="347.5" x2="251.1" y2="347.5" stroke="#3434ff" stroke-width="0.9"/>
<line x1="262.95" y1="302.3" x2="262.95" y2="290.2" stroke="#4a904a" stroke-width="0.85"/>
<line x1="261.45" y1="290.2" x2="264.45" y2="290.2" stroke="#4a904a" stroke-width="0.9"/>
<rect x="261.1" y="302.65" width="3.7" height="81.55" fill="#2f8c1f" stroke="#267a18" stroke-width="0.7" />
<line x1="260.45" y1="302.7" x2="265.45" y2="302.7" stroke="#267a18" stroke-width="0.9"/>
<line x1="271.55" y1="299.3" x2="271.55" y2="281.2" stroke="#f09050" stroke-width="0.85"/>
<line x1="270.05" y1="281.2" x2="273.05" y2="281.2" stroke="#f09050" stroke-width="0.9"/>
<rect x="269.7" y="299.65" width="3.7" height="84.55" fill="#f08224" stroke="#f27c1e" stroke-width="0.7" />
<line x1="269.05" y1="299.7" x2="274.05" y2="299.7" stroke="#f27c1e" stroke-width="0.9"/>
<line x1="280.15" y1="301.4" x2="280.15" y2="286.4" stroke="#f88890" stroke-width="0.85"/>
<line x1="278.65" y1="286.4" x2="281.65" y2="286.4" stroke="#f88890" stroke-width="0.9"/>
<rect x="278.3" y="301.75" width="3.7" height="82.45" fill="#f5464e" stroke="#ff2020" stroke-width="0.7" />
<line x1="277.65" y1="301.8" x2="282.65" y2="301.8" stroke="#ff2020" stroke-width="0.9"/>
<line x1="288.75" y1="344.4" x2="288.75" y2="334.5" stroke="#6a6aff" stroke-width="0.85"/>
<line x1="287.25" y1="334.5" x2="290.25" y2="334.5" stroke="#6a6aff" stroke-width="0.9"/>
<rect x="286.9" y="344.75" width="3.7" height="39.45" fill="#6262ff" stroke="#3434ff" stroke-width="0.7" />
<line x1="286.25" y1="344.8" x2="291.25" y2="344.8" stroke="#3434ff" stroke-width="0.9"/>
<line x1="303.1" y1="301.4" x2="303.1" y2="283.5" stroke="#4a904a" stroke-width="0.85"/>
<line x1="301.6" y1="283.5" x2="304.6" y2="283.5" stroke="#4a904a" stroke-width="0.9"/>
<rect x="301.25" y="301.75" width="3.7" height="82.45" fill="#2f8c1f" stroke="#267a18" stroke-width="0.7" />
<line x1="300.6" y1="301.8" x2="305.6" y2="301.8" stroke="#267a18" stroke-width="0.9"/>
<line x1="311.7" y1="312.1" x2="311.7" y2="303.3" stroke="#f09050" stroke-width="0.85"/>
<line x1="310.2" y1="303.3" x2="313.2" y2="303.3" stroke="#f09050" stroke-width="0.9"/>
<rect x="309.85" y="312.45" width="3.7" height="71.75" fill="#f08224" stroke="#f27c1e" stroke-width="0.7" />
<line x1="309.2" y1="312.5" x2="314.2" y2="312.5" stroke="#f27c1e" stroke-width="0.9"/>
<line x1="320.3" y1="293.9" x2="320.3" y2="281.2" stroke="#f88890" stroke-width="0.85"/>
<line x1="318.8" y1="281.2" x2="321.8" y2="281.2" stroke="#f88890" stroke-width="0.9"/>
<rect x="318.45" y="294.25" width="3.7" height="89.95" fill="#f5464e" stroke="#ff2020" stroke-width="0.7" />
<line x1="317.8" y1="294.3" x2="322.8" y2="294.3" stroke="#ff2020" stroke-width="0.9"/>
<line x1="328.9" y1="345.1" x2="328.9" y2="336.3" stroke="#6a6aff" stroke-width="0.85"/>
<line x1="327.4" y1="336.3" x2="330.4" y2="336.3" stroke="#6a6aff" stroke-width="0.9"/>
<rect x="327.05" y="345.45" width="3.7" height="38.75" fill="#6262ff" stroke="#3434ff" stroke-width="0.7" />
<line x1="326.4" y1="345.5" x2="331.4" y2="345.5" stroke="#3434ff" stroke-width="0.9"/>
<line x1="343.25" y1="303.3" x2="343.25" y2="296.2" stroke="#4a904a" stroke-width="0.85"/>
<line x1="341.75" y1="296.2" x2="344.75" y2="296.2" stroke="#4a904a" stroke-width="0.9"/>
<rect x="341.4" y="303.65" width="3.7" height="80.55" fill="#2f8c1f" stroke="#267a18" stroke-width="0.7" />
<line x1="340.75" y1="303.7" x2="345.75" y2="303.7" stroke="#267a18" stroke-width="0.9"/>
<line x1="351.85" y1="340.2" x2="351.85" y2="332.8" stroke="#f09050" stroke-width="0.85"/>
<line x1="350.35" y1="332.8" x2="353.35" y2="332.8" stroke="#f09050" stroke-width="0.9"/>
<rect x="350" y="340.55" width="3.7" height="43.65" fill="#f08224" stroke="#f27c1e" stroke-width="0.7" />
<line x1="349.35" y1="340.6" x2="354.35" y2="340.6" stroke="#f27c1e" stroke-width="0.9"/>
<line x1="360.45" y1="342.2" x2="360.45" y2="331.7" stroke="#f88890" stroke-width="0.85"/>
<line x1="358.95" y1="331.7" x2="361.95" y2="331.7" stroke="#f88890" stroke-width="0.9"/>
<rect x="358.6" y="342.55" width="3.7" height="41.65" fill="#f5464e" stroke="#ff2020" stroke-width="0.7" />
<line x1="357.95" y1="342.6" x2="362.95" y2="342.6" stroke="#ff2020" stroke-width="0.9"/>
<line x1="369.05" y1="370.9" x2="369.05" y2="366.4" stroke="#6a6aff" stroke-width="0.85"/>
<line x1="367.55" y1="366.4" x2="370.55" y2="366.4" stroke="#6a6aff" stroke-width="0.9"/>
<rect x="367.2" y="371.25" width="3.7" height="12.95" fill="#6262ff" stroke="#3434ff" stroke-width="0.7" />
<line x1="366.55" y1="371.3" x2="371.55" y2="371.3" stroke="#3434ff" stroke-width="0.9"/>
<line x1="383.4" y1="301.4" x2="383.4" y2="283.5" stroke="#4a904a" stroke-width="0.85"/>
<line x1="381.9" y1="283.5" x2="384.9" y2="283.5" stroke="#4a904a" stroke-width="0.9"/>
<rect x="381.55" y="301.75" width="3.7" height="82.45" fill="#2f8c1f" stroke="#267a18" stroke-width="0.7" />
<line x1="380.9" y1="301.8" x2="385.9" y2="301.8" stroke="#267a18" stroke-width="0.9"/>
<line x1="392" y1="302.7" x2="392" y2="290" stroke="#f09050" stroke-width="0.85"/>
<line x1="390.5" y1="290" x2="393.5" y2="290" stroke="#f09050" stroke-width="0.9"/>
<rect x="390.15" y="303.05" width="3.7" height="81.15" fill="#f08224" stroke="#f27c1e" stroke-width="0.7" />
<line x1="389.5" y1="303.1" x2="394.5" y2="303.1" stroke="#f27c1e" stroke-width="0.9"/>
<line x1="400.6" y1="299.3" x2="400.6" y2="281.2" stroke="#f88890" stroke-width="0.85"/>
<line x1="399.1" y1="281.2" x2="402.1" y2="281.2" stroke="#f88890" stroke-width="0.9"/>
<rect x="398.75" y="299.65" width="3.7" height="84.55" fill="#f5464e" stroke="#ff2020" stroke-width="0.7" />
<line x1="398.1" y1="299.7" x2="403.1" y2="299.7" stroke="#ff2020" stroke-width="0.9"/>
<line x1="409.2" y1="304.6" x2="409.2" y2="289.3" stroke="#6a6aff" stroke-width="0.85"/>
<line x1="407.7" y1="289.3" x2="410.7" y2="289.3" stroke="#6a6aff" stroke-width="0.9"/>
<rect x="407.35" y="304.95" width="3.7" height="79.25" fill="#6262ff" stroke="#3434ff" stroke-width="0.7" />
<line x1="406.7" y1="305" x2="411.7" y2="305" stroke="#3434ff" stroke-width="0.9"/>
<line x1="423.55" y1="302.1" x2="423.55" y2="287.4" stroke="#4a904a" stroke-width="0.85"/>
<line x1="422.05" y1="287.4" x2="425.05" y2="287.4" stroke="#4a904a" stroke-width="0.9"/>
<rect x="421.7" y="302.45" width="3.7" height="81.75" fill="#2f8c1f" stroke="#267a18" stroke-width="0.7" />
<line x1="421.05" y1="302.5" x2="426.05" y2="302.5" stroke="#267a18" stroke-width="0.9"/>
<line x1="432.15" y1="308.3" x2="432.15" y2="291.5" stroke="#f09050" stroke-width="0.85"/>
<line x1="430.65" y1="291.5" x2="433.65" y2="291.5" stroke="#f09050" stroke-width="0.9"/>
<rect x="430.3" y="308.65" width="3.7" height="75.55" fill="#f08224" stroke="#f27c1e" stroke-width="0.7" />
<line x1="429.65" y1="308.7" x2="434.65" y2="308.7" stroke="#f27c1e" stroke-width="0.9"/>
<line x1="440.75" y1="299.3" x2="440.75" y2="281.6" stroke="#f88890" stroke-width="0.85"/>
<line x1="439.25" y1="281.6" x2="442.25" y2="281.6" stroke="#f88890" stroke-width="0.9"/>
<rect x="438.9" y="299.65" width="3.7" height="84.55" fill="#f5464e" stroke="#ff2020" stroke-width="0.7" />
<line x1="438.25" y1="299.7" x2="443.25" y2="299.7" stroke="#ff2020" stroke-width="0.9"/>
<line x1="449.35" y1="351.3" x2="449.35" y2="343.3" stroke="#6a6aff" stroke-width="0.85"/>
<line x1="447.85" y1="343.3" x2="450.85" y2="343.3" stroke="#6a6aff" stroke-width="0.9"/>
<rect x="447.5" y="351.65" width="3.7" height="32.55" fill="#6262ff" stroke="#3434ff" stroke-width="0.7" />
<line x1="446.85" y1="351.7" x2="451.85" y2="351.7" stroke="#3434ff" stroke-width="0.9"/>
<line x1="463.7" y1="302.7" x2="463.7" y2="296.2" stroke="#4a904a" stroke-width="0.85"/>
<line x1="462.2" y1="296.2" x2="465.2" y2="296.2" stroke="#4a904a" stroke-width="0.9"/>
<rect x="461.85" y="303.05" width="3.7" height="81.15" fill="#2f8c1f" stroke="#267a18" stroke-width="0.7" />
<line x1="461.2" y1="303.1" x2="466.2" y2="303.1" stroke="#267a18" stroke-width="0.9"/>
<line x1="472.3" y1="299" x2="472.3" y2="288.3" stroke="#f09050" stroke-width="0.85"/>
<line x1="470.8" y1="288.3" x2="473.8" y2="288.3" stroke="#f09050" stroke-width="0.9"/>
<rect x="470.45" y="299.35" width="3.7" height="84.85" fill="#f08224" stroke="#f27c1e" stroke-width="0.7" />
<line x1="469.8" y1="299.4" x2="474.8" y2="299.4" stroke="#f27c1e" stroke-width="0.9"/>
<line x1="480.9" y1="299" x2="480.9" y2="278.4" stroke="#f88890" stroke-width="0.85"/>
<line x1="479.4" y1="278.4" x2="482.4" y2="278.4" stroke="#f88890" stroke-width="0.9"/>
<rect x="479.05" y="299.35" width="3.7" height="84.85" fill="#f5464e" stroke="#ff2020" stroke-width="0.7" />
<line x1="478.4" y1="299.4" x2="483.4" y2="299.4" stroke="#ff2020" stroke-width="0.9"/>
<line x1="489.5" y1="359.1" x2="489.5" y2="345.6" stroke="#6a6aff" stroke-width="0.85"/>
<line x1="488" y1="345.6" x2="491" y2="345.6" stroke="#6a6aff" stroke-width="0.9"/>
<rect x="487.65" y="359.45" width="3.7" height="24.75" fill="#6262ff" stroke="#3434ff" stroke-width="0.7" />
<line x1="487" y1="359.5" x2="492" y2="359.5" stroke="#3434ff" stroke-width="0.9"/>
<line x1="503.85" y1="302.3" x2="503.85" y2="288.3" stroke="#4a904a" stroke-width="0.85"/>
<line x1="502.35" y1="288.3" x2="505.35" y2="288.3" stroke="#4a904a" stroke-width="0.9"/>
<rect x="502" y="302.65" width="3.7" height="81.55" fill="#2f8c1f" stroke="#267a18" stroke-width="0.7" />
<line x1="501.35" y1="302.7" x2="506.35" y2="302.7" stroke="#267a18" stroke-width="0.9"/>
<line x1="512.45" y1="302.3" x2="512.45" y2="288.3" stroke="#f09050" stroke-width="0.85"/>
<line x1="510.95" y1="288.3" x2="513.95" y2="288.3" stroke="#f09050" stroke-width="0.9"/>
<rect x="510.6" y="302.65" width="3.7" height="81.55" fill="#f08224" stroke="#f27c1e" stroke-width="0.7" />
<line x1="509.95" y1="302.7" x2="514.95" y2="302.7" stroke="#f27c1e" stroke-width="0.9"/>
<line x1="521.05" y1="299" x2="521.05" y2="281.6" stroke="#f88890" stroke-width="0.85"/>
<line x1="519.55" y1="281.6" x2="522.55" y2="281.6" stroke="#f88890" stroke-width="0.9"/>
<rect x="519.2" y="299.35" width="3.7" height="84.85" fill="#f5464e" stroke="#ff2020" stroke-width="0.7" />
<line x1="518.55" y1="299.4" x2="523.55" y2="299.4" stroke="#ff2020" stroke-width="0.9"/>
<line x1="529.65" y1="304" x2="529.65" y2="291.1" stroke="#6a6aff" stroke-width="0.85"/>
<line x1="528.15" y1="291.1" x2="531.15" y2="291.1" stroke="#6a6aff" stroke-width="0.9"/>
<rect x="527.8" y="304.35" width="3.7" height="79.85" fill="#6262ff" stroke="#3434ff" stroke-width="0.7" />
<line x1="527.15" y1="304.4" x2="532.15" y2="304.4" stroke="#3434ff" stroke-width="0.9"/>
<line x1="544" y1="302.3" x2="544" y2="291.5" stroke="#4a904a" stroke-width="0.85"/>
<line x1="542.5" y1="291.5" x2="545.5" y2="291.5" stroke="#4a904a" stroke-width="0.9"/>
<rect x="542.15" y="302.65" width="3.7" height="81.55" fill="#2f8c1f" stroke="#267a18" stroke-width="0.7" />
<line x1="541.5" y1="302.7" x2="546.5" y2="302.7" stroke="#267a18" stroke-width="0.9"/>
<line x1="552.6" y1="312.6" x2="552.6" y2="298.4" stroke="#f09050" stroke-width="0.85"/>
<line x1="551.1" y1="298.4" x2="554.1" y2="298.4" stroke="#f09050" stroke-width="0.9"/>
<rect x="550.75" y="312.95" width="3.7" height="71.25" fill="#f08224" stroke="#f27c1e" stroke-width="0.7" />
<line x1="550.1" y1="313" x2="555.1" y2="313" stroke="#f27c1e" stroke-width="0.9"/>
<line x1="561.2" y1="306.8" x2="561.2" y2="292.4" stroke="#f88890" stroke-width="0.85"/>
<line x1="559.7" y1="292.4" x2="562.7" y2="292.4" stroke="#f88890" stroke-width="0.9"/>
<rect x="559.35" y="307.15" width="3.7" height="77.05" fill="#f5464e" stroke="#ff2020" stroke-width="0.7" />
<line x1="558.7" y1="307.2" x2="563.7" y2="307.2" stroke="#ff2020" stroke-width="0.9"/>
<line x1="569.8" y1="340.8" x2="569.8" y2="324.2" stroke="#6a6aff" stroke-width="0.85"/>
<line x1="568.3" y1="324.2" x2="571.3" y2="324.2" stroke="#6a6aff" stroke-width="0.9"/>
<rect x="567.95" y="341.15" width="3.7" height="43.05" fill="#6262ff" stroke="#3434ff" stroke-width="0.7" />
<line x1="567.3" y1="341.2" x2="572.3" y2="341.2" stroke="#3434ff" stroke-width="0.9"/>
<line x1="584.15" y1="302.1" x2="584.15" y2="285.3" stroke="#4a904a" stroke-width="0.85"/>
<line x1="582.65" y1="285.3" x2="585.65" y2="285.3" stroke="#4a904a" stroke-width="0.9"/>
<rect x="582.3" y="302.45" width="3.7" height="81.75" fill="#2f8c1f" stroke="#267a18" stroke-width="0.7" />
<line x1="581.65" y1="302.5" x2="586.65" y2="302.5" stroke="#267a18" stroke-width="0.9"/>
<line x1="592.75" y1="305" x2="592.75" y2="292.4" stroke="#f09050" stroke-width="0.85"/>
<line x1="591.25" y1="292.4" x2="594.25" y2="292.4" stroke="#f09050" stroke-width="0.9"/>
<rect x="590.9" y="305.35" width="3.7" height="78.85" fill="#f08224" stroke="#f27c1e" stroke-width="0.7" />
<line x1="590.25" y1="305.4" x2="595.25" y2="305.4" stroke="#f27c1e" stroke-width="0.9"/>
<line x1="601.35" y1="303.1" x2="601.35" y2="288.1" stroke="#f88890" stroke-width="0.85"/>
<line x1="599.85" y1="288.1" x2="602.85" y2="288.1" stroke="#f88890" stroke-width="0.9"/>
<rect x="599.5" y="303.45" width="3.7" height="80.75" fill="#f5464e" stroke="#ff2020" stroke-width="0.7" />
<line x1="598.85" y1="303.5" x2="603.85" y2="303.5" stroke="#ff2020" stroke-width="0.9"/>
<line x1="609.95" y1="352.2" x2="609.95" y2="344.4" stroke="#6a6aff" stroke-width="0.85"/>
<line x1="608.45" y1="344.4" x2="611.45" y2="344.4" stroke="#6a6aff" stroke-width="0.9"/>
<rect x="608.1" y="352.55" width="3.7" height="31.65" fill="#6262ff" stroke="#3434ff" stroke-width="0.7" />
<line x1="607.45" y1="352.6" x2="612.45" y2="352.6" stroke="#3434ff" stroke-width="0.9"/>
<line x1="215.3" y1="260.1" x2="215.3" y2="384.7" stroke="#333" stroke-width="1.0"/>
<line x1="215.3" y1="384.2" x2="617.8" y2="384.2" stroke="#333" stroke-width="1.0"/>
<line x1="212.6" y1="384.2" x2="215.3" y2="384.2" stroke="#333" stroke-width="0.9"/>
<text transform="translate(209.3,388) scale(1,1.16)" font-size="7.0" text-anchor="end" fill="#111" >0.0</text>
<line x1="212.6" y1="343" x2="215.3" y2="343" stroke="#333" stroke-width="0.9"/>
<text transform="translate(209.3,346.8) scale(1,1.16)" font-size="7.0" text-anchor="end" fill="#111" >0.5</text>
<line x1="212.6" y1="301.8" x2="215.3" y2="301.8" stroke="#333" stroke-width="0.9"/>
<text transform="translate(209.3,305.6) scale(1,1.16)" font-size="7.0" text-anchor="end" fill="#111" >1.0</text>
<line x1="212.6" y1="260.6" x2="215.3" y2="260.6" stroke="#333" stroke-width="0.9"/>
<text transform="translate(209.3,264.4) scale(1,1.16)" font-size="7.0" text-anchor="end" fill="#111" >1.5</text>
<line x1="235.7" y1="384.2" x2="235.7" y2="387.8" stroke="#333" stroke-width="0.9"/>
<text transform="translate(238,394.5) rotate(-45) scale(1,1.16)" font-size="7.1" text-anchor="end" fill="#1a1a1a" class="pv">METTL3</text>
<line x1="275.85" y1="384.2" x2="275.85" y2="387.8" stroke="#333" stroke-width="0.9"/>
<text transform="translate(278.15,394.5) rotate(-45) scale(1,1.16)" font-size="7.1" text-anchor="end" fill="#1a1a1a" class="pv">METTL14</text>
<line x1="316" y1="384.2" x2="316" y2="387.8" stroke="#333" stroke-width="0.9"/>
<text transform="translate(318.3,394.5) rotate(-45) scale(1,1.16)" font-size="7.1" text-anchor="end" fill="#1a1a1a" class="pv">WTAP</text>
<line x1="356.15" y1="384.2" x2="356.15" y2="387.8" stroke="#333" stroke-width="0.9"/>
<text transform="translate(358.45,394.5) rotate(-45) scale(1,1.16)" font-size="7.1" text-anchor="end" fill="#1a1a1a" class="pv">ALKBH5</text>
<line x1="396.3" y1="384.2" x2="396.3" y2="387.8" stroke="#333" stroke-width="0.9"/>
<text transform="translate(398.6,394.5) rotate(-45) scale(1,1.16)" font-size="7.1" text-anchor="end" fill="#1a1a1a" class="pv">FTO</text>
<line x1="436.45" y1="384.2" x2="436.45" y2="387.8" stroke="#333" stroke-width="0.9"/>
<text transform="translate(438.75,394.5) rotate(-45) scale(1,1.16)" font-size="7.1" text-anchor="end" fill="#1a1a1a" class="pv">YTHDC1</text>
<line x1="476.6" y1="384.2" x2="476.6" y2="387.8" stroke="#333" stroke-width="0.9"/>
<text transform="translate(478.9,394.5) rotate(-45) scale(1,1.16)" font-size="7.1" text-anchor="end" fill="#1a1a1a" class="pv">YTHDC2</text>
<line x1="516.75" y1="384.2" x2="516.75" y2="387.8" stroke="#333" stroke-width="0.9"/>
<text transform="translate(519.05,394.5) rotate(-45) scale(1,1.16)" font-size="7.1" text-anchor="end" fill="#1a1a1a" class="pv">YTHDF1</text>
<line x1="556.9" y1="384.2" x2="556.9" y2="387.8" stroke="#333" stroke-width="0.9"/>
<text transform="translate(559.2,394.5) rotate(-45) scale(1,1.16)" font-size="7.1" text-anchor="end" fill="#1a1a1a" class="pv">YTHDF2</text>
<line x1="597.05" y1="384.2" x2="597.05" y2="387.8" stroke="#333" stroke-width="0.9"/>
<text transform="translate(599.35,394.5) rotate(-45) scale(1,1.16)" font-size="7.1" text-anchor="end" fill="#1a1a1a" class="pv">YTHDF3</text>
<path d="M239,229.2 V223.4 H247.9 V229.2" fill="none" stroke="#555" stroke-width="0.9"/>
<text transform="translate(227.2,221.1) scale(1,1.12)" font-size="7.1" text-anchor="start" fill="#333" class="pv">p&lt;0.001</text>
<text transform="translate(241.95,216.9) scale(1,1.12)" font-size="7.0" text-anchor="middle" fill="#333" class="pv">***</text>
<path d="M231.4,249.4 V243.6 H247.9 V249.4" fill="none" stroke="#555" stroke-width="0.9"/>
<text transform="translate(223.1,241.3) scale(1,1.12)" font-size="7.1" text-anchor="start" fill="#333" class="pv">p&lt;0.001</text>
<text transform="translate(238.15,238.9) scale(1,1.12)" font-size="7.0" text-anchor="middle" fill="#333" class="pv">***</text>
<path d="M223.2,270.3 V264.5 H247.9 V270.3" fill="none" stroke="#555" stroke-width="0.9"/>
<text transform="translate(219,262.2) scale(1,1.12)" font-size="7.1" text-anchor="start" fill="#333" class="pv">p&lt;0.001</text>
<text transform="translate(234.05,258.7) scale(1,1.12)" font-size="7.0" text-anchor="middle" fill="#333" class="pv">***</text>
<path d="M279.15,239.4 V233.6 H288.05 V239.4" fill="none" stroke="#555" stroke-width="0.9"/>
<text transform="translate(266.1,231.3) scale(1,1.12)" font-size="7.1" text-anchor="start" fill="#333" class="pv">p&lt;0.001</text>
<text transform="translate(282.1,227.1) scale(1,1.12)" font-size="7.0" text-anchor="middle" fill="#333" class="pv">***</text>
<path d="M271.55,259.4 V253.6 H288.05 V259.4" fill="none" stroke="#555" stroke-width="0.9"/>
<text transform="translate(262.7,251.3) scale(1,1.12)" font-size="7.1" text-anchor="start" fill="#333" class="pv">p&lt;0.001</text>
<text transform="translate(278.3,248.9) scale(1,1.12)" font-size="7.0" text-anchor="middle" fill="#333" class="pv">***</text>
<path d="M263.35,280.6 V274.8 H288.05 V280.6" fill="none" stroke="#555" stroke-width="0.9"/>
<text transform="translate(258.2,272.5) scale(1,1.12)" font-size="7.1" text-anchor="start" fill="#333" class="pv">p&lt;0.001</text>
<text transform="translate(274.2,269) scale(1,1.12)" font-size="7.0" text-anchor="middle" fill="#333" class="pv">***</text>
<path d="M319.3,240 V234.2 H328.2 V240" fill="none" stroke="#555" stroke-width="0.9"/>
<text transform="translate(306.8,231.9) scale(1,1.12)" font-size="7.1" text-anchor="start" fill="#333" class="pv">p&lt;0.001</text>
<text transform="translate(322.25,227.7) scale(1,1.12)" font-size="7.0" text-anchor="middle" fill="#333" class="pv">***</text>
<path d="M311.7,260.4 V254.6 H328.2 V260.4" fill="none" stroke="#555" stroke-width="0.9"/>
<text transform="translate(303.1,252.3) scale(1,1.12)" font-size="7.1" text-anchor="start" fill="#333" class="pv">p=0.0015</text>
<text transform="translate(318.45,249.9) scale(1,1.12)" font-size="7.0" text-anchor="middle" fill="#333" class="pv">**</text>
<path d="M303.5,281.5 V275.7 H328.2 V281.5" fill="none" stroke="#555" stroke-width="0.9"/>
<text transform="translate(299,273.4) scale(1,1.12)" font-size="7.1" text-anchor="start" fill="#333" class="pv">p&lt;0.001</text>
<text transform="translate(314.35,269.9) scale(1,1.12)" font-size="7.0" text-anchor="middle" fill="#333" class="pv">***</text>
<path d="M359.45,252 V246.2 H368.35 V252" fill="none" stroke="#555" stroke-width="0.9"/>
<text transform="translate(346.6,243.9) scale(1,1.12)" font-size="7.1" text-anchor="start" fill="#333" class="pv">p=0.0171</text>
<text transform="translate(362.4,239.1) scale(1,1.12)" font-size="7.0" text-anchor="middle" fill="#333" class="pv">*</text>
<path d="M351.85,272.2 V266.4 H368.35 V272.2" fill="none" stroke="#555" stroke-width="0.9"/>
<text transform="translate(343.4,264.1) scale(1,1.12)" font-size="7.1" text-anchor="start" fill="#333" class="pv">p=0.0059</text>
<text transform="translate(358.6,261.7) scale(1,1.12)" font-size="7.0" text-anchor="middle" fill="#333" class="pv">**</text>
<path d="M343.65,294 V288.2 H368.35 V294" fill="none" stroke="#555" stroke-width="0.9"/>
<text transform="translate(339.1,285.9) scale(1,1.12)" font-size="7.1" text-anchor="start" fill="#333" class="pv">p&lt;0.001</text>
<text transform="translate(354.5,282.4) scale(1,1.12)" font-size="7.0" text-anchor="middle" fill="#333" class="pv">***</text>
<path d="M439.75,240.6 V234.8 H448.65 V240.6" fill="none" stroke="#555" stroke-width="0.9"/>
<text transform="translate(427.9,232.5) scale(1,1.12)" font-size="7.1" text-anchor="start" fill="#333" class="pv">p&lt;0.001</text>
<text transform="translate(442.7,228.3) scale(1,1.12)" font-size="7.0" text-anchor="middle" fill="#333" class="pv">***</text>
<path d="M432.15,260.4 V254.6 H448.65 V260.4" fill="none" stroke="#555" stroke-width="0.9"/>
<text transform="translate(422.9,252.3) scale(1,1.12)" font-size="7.1" text-anchor="start" fill="#333" class="pv">p&lt;0.001</text>
<text transform="translate(438.9,249.9) scale(1,1.12)" font-size="7.0" text-anchor="middle" fill="#333" class="pv">***</text>
<path d="M423.95,281.7 V275.9 H448.65 V281.7" fill="none" stroke="#555" stroke-width="0.9"/>
<text transform="translate(418.9,273.6) scale(1,1.12)" font-size="7.1" text-anchor="start" fill="#333" class="pv">p&lt;0.001</text>
<text transform="translate(434.8,270.1) scale(1,1.12)" font-size="7.0" text-anchor="middle" fill="#333" class="pv">***</text>
<path d="M479.9,238.6 V232.8 H488.8 V238.6" fill="none" stroke="#555" stroke-width="0.9"/>
<text transform="translate(469.2,230.5) scale(1,1.12)" font-size="7.1" text-anchor="start" fill="#333" class="pv">p&lt;0.001</text>
<text transform="translate(482.85,226.3) scale(1,1.12)" font-size="7.0" text-anchor="middle" fill="#333" class="pv">***</text>
<path d="M472.3,258.4 V252.6 H488.8 V258.4" fill="none" stroke="#555" stroke-width="0.9"/>
<text transform="translate(464,250.3) scale(1,1.12)" font-size="7.1" text-anchor="start" fill="#333" class="pv">p&lt;0.001</text>
<text transform="translate(479.05,247.9) scale(1,1.12)" font-size="7.0" text-anchor="middle" fill="#333" class="pv">***</text>
<path d="M464.1,279.7 V273.9 H488.8 V279.7" fill="none" stroke="#555" stroke-width="0.9"/>
<text transform="translate(459.7,271.6) scale(1,1.12)" font-size="7.1" text-anchor="start" fill="#333" class="pv">p&lt;0.001</text>
<text transform="translate(474.95,268.1) scale(1,1.12)" font-size="7.0" text-anchor="middle" fill="#333" class="pv">***</text>
<path d="M560.2,248.6 V242.8 H569.1 V248.6" fill="none" stroke="#555" stroke-width="0.9"/>
<text transform="translate(547.9,240.5) scale(1,1.12)" font-size="7.1" text-anchor="start" fill="#333" class="pv">p&lt;0.001</text>
<text transform="translate(563.15,236.3) scale(1,1.12)" font-size="7.0" text-anchor="middle" fill="#333" class="pv">***</text>
<path d="M552.6,268.4 V262.6 H569.1 V268.4" fill="none" stroke="#555" stroke-width="0.9"/>
<text transform="translate(543.9,260.3) scale(1,1.12)" font-size="7.1" text-anchor="start" fill="#333" class="pv">p=0.0243</text>
<text transform="translate(559.35,257.9) scale(1,1.12)" font-size="7.0" text-anchor="middle" fill="#333" class="pv">*</text>
<path d="M544.4,289.7 V283.9 H569.1 V289.7" fill="none" stroke="#555" stroke-width="0.9"/>
<text transform="translate(540,281.6) scale(1,1.12)" font-size="7.1" text-anchor="start" fill="#333" class="pv">p&lt;0.001</text>
<text transform="translate(555.25,278.1) scale(1,1.12)" font-size="7.0" text-anchor="middle" fill="#333" class="pv">***</text>
<path d="M600.35,242 V236.2 H609.25 V242" fill="none" stroke="#555" stroke-width="0.9"/>
<text transform="translate(589,233.9) scale(1,1.12)" font-size="7.1" text-anchor="start" fill="#333" class="pv">p&lt;0.001</text>
<text transform="translate(603.3,229.7) scale(1,1.12)" font-size="7.0" text-anchor="middle" fill="#333" class="pv">***</text>
<path d="M592.75,262.5 V256.7 H609.25 V262.5" fill="none" stroke="#555" stroke-width="0.9"/>
<text transform="translate(584.7,254.4) scale(1,1.12)" font-size="7.1" text-anchor="start" fill="#333" class="pv">p&lt;0.001</text>
<text transform="translate(599.5,252) scale(1,1.12)" font-size="7.0" text-anchor="middle" fill="#333" class="pv">***</text>
<path d="M584.55,283.7 V277.9 H609.25 V283.7" fill="none" stroke="#555" stroke-width="0.9"/>
<text transform="translate(580.3,275.6) scale(1,1.12)" font-size="7.1" text-anchor="start" fill="#333" class="pv">p&lt;0.001</text>
<text transform="translate(595.4,272.1) scale(1,1.12)" font-size="7.0" text-anchor="middle" fill="#333" class="pv">***</text>
<rect x="628.9" y="283.3" width="13.6" height="4.5" fill="#2f8c1f" />
<text transform="translate(646.2,288.9) scale(1,1.06)" font-size="7.1" text-anchor="start" fill="#111" >Model</text>
<rect x="628.9" y="297.45" width="13.6" height="4.5" fill="#f08224" />
<text transform="translate(646.2,303.05) scale(1,1.06)" font-size="7.1" text-anchor="start" fill="#111" >Radio</text>
<rect x="628.9" y="311.6" width="13.6" height="4.5" fill="#f5464e" />
<text transform="translate(646.2,317.2) scale(1,1.06)" font-size="7.1" text-anchor="start" fill="#111" >PD-1</text>
<rect x="628.9" y="325.75" width="13.6" height="4.5" fill="#6262ff" />
<text transform="translate(646.2,331.35) scale(1,1.06)" font-size="7.1" text-anchor="start" fill="#111" >Radio+PD-1</text>
</svg>
</body></html>
